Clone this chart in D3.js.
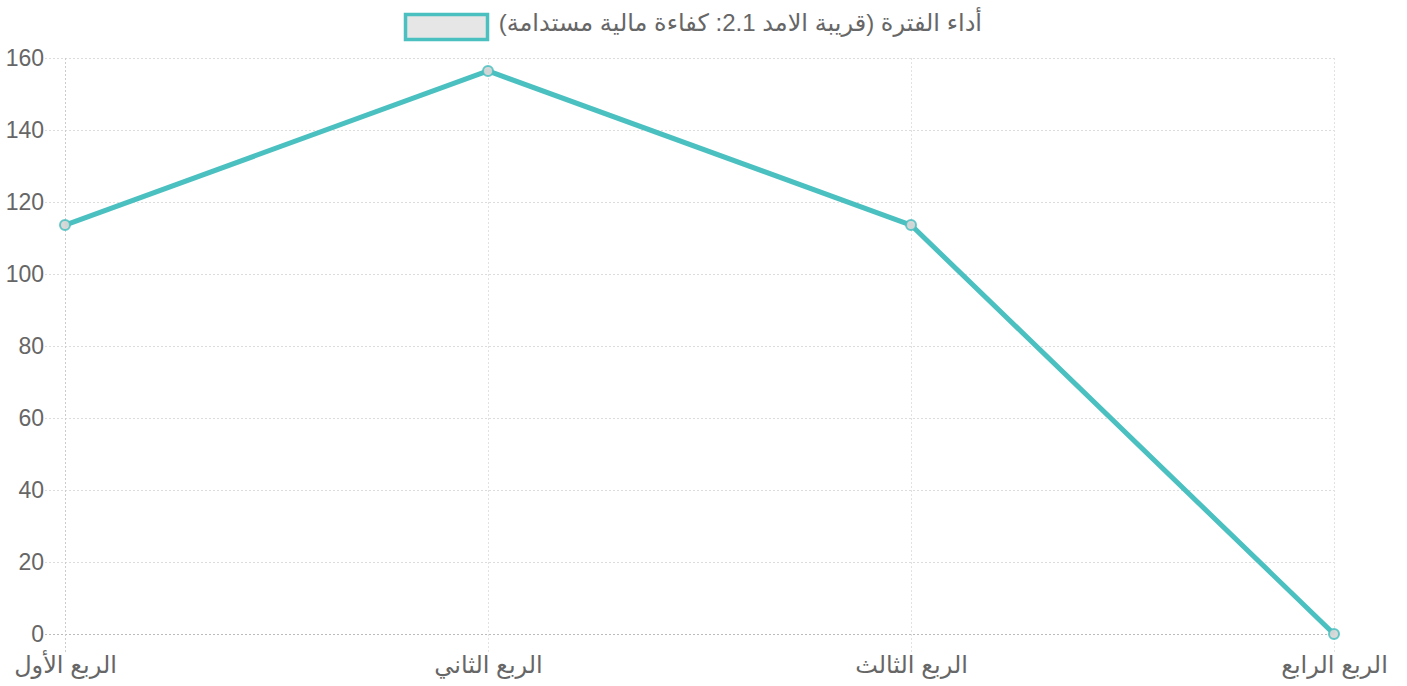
<!DOCTYPE html>
<html><head><meta charset="utf-8">
<script src="https://cdn.jsdelivr.net/npm/d3@7"></script>
<style>body{margin:0;background:#fff;}svg{display:block;}</style>
</head><body>
<svg id="c" width="1407" height="686"></svg>
<script>
const categories = ["الربع الأول", "الربع الثاني", "الربع الثالث", "الربع الرابع"];
const values = [113.6, 156.4, 113.6, 0];
const yTicks = [0, 20, 40, 60, 80, 100, 120, 140, 160];
const seriesName = "أداء الفترة (قريبة الامد 2.1: كفاءة مالية مستدامة)";

(function () {
const svg = d3.select("#c");
const font = "'Liberation Sans', 'DejaVu Sans', sans-serif";
const mLeft = 65, mRight = 1334, mTop = 58, mBottom = 634;
const x = d3.scalePoint().domain(categories).range([mLeft, mRight]);
const y = d3.scaleLinear().domain([0, 160]).range([mBottom, mTop]);

// horizontal grid
const yAxis = d3.axisLeft(y).tickValues(yTicks).tickSize(-(mRight - mLeft)).tickPadding(22).tickSizeOuter(0);
const gy = svg.append("g").attr("transform", `translate(${mLeft},0)`).call(yAxis);
gy.select(".domain").remove();
gy.selectAll(".tick line").attr("x1", -20).attr("x2", mRight - mLeft)
  .attr("stroke", d => d === 0 ? "#bbb" : "#ddd").attr("stroke-dasharray", "2,2").attr("stroke-width", 1);
gy.selectAll(".tick text").attr("font-family", font).attr("font-size", 23).attr("fill", "#666").attr("x", -21).attr("dy", "0.33em");

// vertical grid
const xAxis = d3.axisBottom(x).tickSize(-(mBottom - mTop)).tickPadding(14).tickSizeOuter(0);
const gx = svg.append("g").attr("transform", `translate(0,${mBottom})`).call(xAxis);
gx.select(".domain").remove();
gx.selectAll(".tick line").attr("y1", 18).attr("y2", -(mBottom - mTop))
  .attr("stroke", d => d === categories[0] ? "#ccc" : "#e2e2e2").attr("stroke-dasharray", "2,2");
gx.selectAll(".tick text").attr("font-family", font).attr("font-size", 24).attr("fill", "#666").attr("y", 31).attr("dy", "0.35em");

// line
const line = d3.line().x((d, i) => x(categories[i])).y(d => y(d));
svg.append("path").datum(values).attr("d", line).attr("fill", "none")
  .attr("stroke", "rgb(75,192,192)").attr("stroke-width", 5).attr("stroke-linejoin", "round");
svg.selectAll("circle.pt").data(values).enter().append("circle").attr("class", "pt")
  .attr("cx", (d, i) => x(categories[i])).attr("cy", d => y(d)).attr("r", 5)
  .attr("fill", "rgba(215,215,215,0.95)").attr("stroke", "rgba(75,192,192,0.85)").attr("stroke-width", 2);

// legend
const lg = svg.append("g");
lg.append("rect").attr("x", 405.5).attr("y", 14.5).attr("width", 82).attr("height", 25)
  .attr("fill", "#e6e6e6").attr("stroke", "rgb(75,192,192)").attr("stroke-width", 3.5);
lg.append("text").attr("x", 982).attr("y", 23).attr("dy", "0.35em").attr("text-anchor", "start")
  .attr("direction", "rtl").attr("font-family", font).attr("font-size", 24).attr("fill", "#666").text(seriesName);
})();
</script>
</body></html>
